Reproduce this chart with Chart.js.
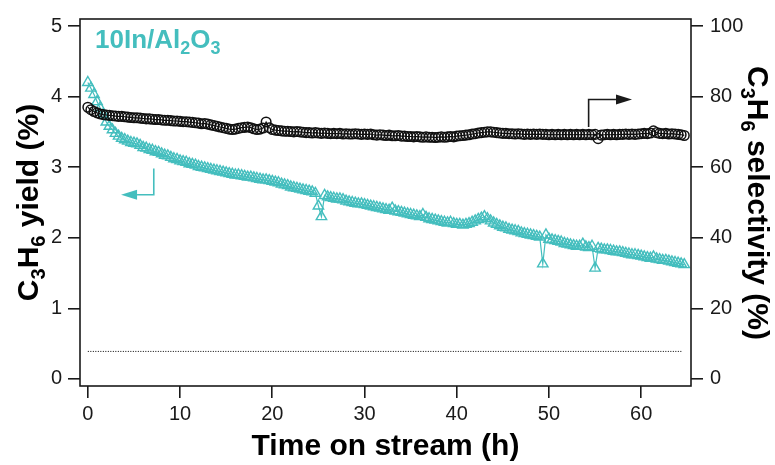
<!DOCTYPE html>
<html><head><meta charset="utf-8">
<script src="https://cdn.jsdelivr.net/npm/chart.js@4/dist/chart.umd.min.js"></script>
<style>html,body{margin:0;padding:0;background:#fff}#wrap{width:775px;height:465px}</style>
</head><body><div id="wrap"><canvas id="c" width="775" height="465"></canvas></div>
<script>
// Time on stream (h)
const timeHours = [
 0,0.33,0.67,1,1.33,1.67,2,2.33,2.67,3,3.33,3.67,4,4.33,4.67,5,5.33,5.67,6,6.33,6.67,7,7.33,7.67,8,8.33,8.67,9,9.33,9.67,
 10,10.33,10.67,11,11.33,11.67,12,12.33,12.67,13,13.33,13.67,14,14.33,14.67,15,15.33,15.67,16,16.33,16.67,17,17.33,17.67,18,18.33,18.67,19,19.33,19.67,
 20,20.33,20.67,21,21.33,21.67,22,22.33,22.67,23,23.33,23.67,24,24.33,24.67,25,25.33,25.67,26,26.33,26.67,27,27.33,27.67,28,28.33,28.67,29,29.33,29.67,
 30,30.33,30.67,31,31.33,31.67,32,32.33,32.67,33,33.33,33.67,34,34.33,34.67,35,35.33,35.67,36,36.33,36.67,37,37.33,37.67,38,38.33,38.67,39,39.33,39.67,
 40,40.33,40.67,41,41.33,41.67,42,42.33,42.67,43,43.33,43.67,44,44.33,44.67,45,45.33,45.67,46,46.33,46.67,47,47.33,47.67,48,48.33,48.67,49,49.33,49.67,
 50,50.33,50.67,51,51.33,51.67,52,52.33,52.67,53,53.33,53.67,54,54.33,54.67,55,55.33,55.67,56,56.33,56.67,57,57.33,57.67,58,58.33,58.67,59,59.33,59.67,
 60,60.33,60.67,61,61.33,61.67,62,62.33,62.67,63,63.33,63.67,64,64.33,64.67
];
// C3H6 yield (%)
const yieldPct = [
 4.20,4.12,4.03, 3.93,3.84,3.75, 3.64,3.58,3.53, 3.48,3.44,3.41, 3.39,3.37,3.35, 3.34,3.33,3.31, 3.28,3.27,3.25, 3.24,3.22,3.21, 3.19,3.17,3.16, 3.14,3.12,3.11,
 3.09,3.08,3.07, 3.05,3.04,3.03, 3.01,3.00,2.99, 2.98,2.97,2.96, 2.95,2.94,2.93, 2.92,2.91,2.90, 2.89,2.89,2.88, 2.87,2.86,2.86, 2.85,2.84,2.83, 2.82,2.82,2.81,
 2.80,2.79,2.78, 2.76,2.75,2.74, 2.72,2.71,2.70, 2.69,2.68,2.67, 2.66,2.65,2.63, 2.45,2.30,2.60, 2.58,2.57,2.56, 2.55,2.55,2.54, 2.52,2.51,2.50, 2.49,2.48,2.48,
 2.47,2.46,2.45, 2.44,2.43,2.42, 2.41,2.40,2.39, 2.42,2.38,2.37, 2.36,2.35,2.34, 2.33,2.32,2.31, 2.30,2.33,2.29, 2.27,2.26,2.25, 2.24,2.23,2.22, 2.21,2.22,2.20,
 2.19,2.19,2.18, 2.19,2.20,2.22, 2.24,2.26,2.28, 2.30,2.27,2.24, 2.21,2.19,2.17, 2.15,2.14,2.12, 2.11,2.10,2.09, 2.07,2.06,2.05, 2.04,2.03,2.02, 2.01,1.63,2.04,
 1.98,1.97,1.96, 1.95,1.94,1.92, 1.91,1.90,1.89, 1.88,1.88,1.91, 1.87,1.86,1.88, 1.57,1.85,1.84, 1.83,1.83,1.82, 1.81,1.80,1.80, 1.79,1.78,1.77, 1.76,1.76,1.75,
 1.74,1.73,1.72, 1.71,1.73,1.70, 1.69,1.68,1.68, 1.67,1.66,1.65, 1.64,1.63,1.62
];
// C3H6 selectivity (%)
const selectivityPct = [
 77.0,76.3,75.8, 75.4,75.1,74.9, 74.8,74.7,74.6, 74.5,74.4,74.4, 74.3,74.2,74.1, 74.0,74.0,73.9, 73.8,73.7,73.7, 73.6,73.5,73.5, 73.4,73.3,73.3, 73.2,73.1,73.1,
 73.0,72.9,72.9, 72.8,72.7,72.6, 72.5,72.3,72.4, 72.2,72.0,71.8, 71.6,71.4,71.2, 71.0,70.8,70.7, 70.8,71.0,71.2, 71.3,71.4,71.2, 70.9,70.7,70.8, 71.1,72.8,71.2,
 70.7,70.5,70.4, 70.3,70.2,70.2, 70.1,70.0,70.1, 70.0,69.9,69.8, 69.8,69.7,69.8, 69.7,69.6,69.7, 69.6,69.5,69.6, 69.5,69.6,69.4, 69.5,69.4,69.4, 69.5,69.4,69.3,
 69.4,69.3,69.4, 69.2,69.1,69.2, 69.1,69.0,69.1, 68.9,68.9,69.0, 68.8,68.8,68.7, 68.7,68.6,68.7, 68.6,68.5,68.6, 68.5,68.5,68.4, 68.5,68.6,68.5, 68.6,68.7,68.6,
 68.8,68.9,69.0, 69.1,69.2,69.4, 69.5,69.7,69.8, 69.9,70.0,70.0, 69.9,69.8,69.7, 69.6,69.6,69.5, 69.5,69.4,69.5, 69.4,69.3,69.4, 69.3,69.4,69.3, 69.4,69.3,69.3,
 69.2,69.3,69.2, 69.3,69.2,69.3, 69.2,69.3,69.2, 69.3,69.2,69.3, 69.2,69.3,69.2, 69.3,68.1,69.1, 69.2,69.3,69.2, 69.3,69.2,69.3, 69.3,69.4,69.3, 69.4,69.3,69.4,
 69.5,69.6,69.5, 69.7,70.3,69.8, 69.6,69.5,69.6, 69.4,69.5,69.4, 69.3,69.2,69.0
];
// dotted reference line (yield axis)
const refLineTimes = [0, 64.5];
const refLineYield = [0.39, 0.39];
// ticks
const xTicks = [0,10,20,30,40,50,60];
const yTicks = [0,1,2,3,4,5];
const y1Ticks = [0,20,40,60,80,100];
const sampleLabel = [['10In/Al',0],['2',1],['O',0],['3',1]];
const yTitle = [['C',0],['3',1],['H',0],['6',1],[' yield (%)',0]];
const y1Title = [['C',0],['3',1],['H',0],['6',1],[' selectivity (%)',0]];
const xTitle = 'Time on stream (h)';

const TEAL = '#44BEBE';
const INK = '#1a1a1a';
const FONT = '"Liberation Sans", Arial, Helvetica, sans-serif';

function pts(xs, ys){ return xs.map((x,i)=>({x:x, y:ys[i]})); }

function drawRich(ctx, segs, size, x, y, align){
  const main = `bold ${size}px ${FONT}`;
  const sub = `bold ${Math.round(size*0.68)}px ${FONT}`;
  let w = 0;
  for (const [t,s] of segs){ ctx.font = s?sub:main; w += ctx.measureText(t).width; }
  let cx = align==='center' ? x - w/2 : x;
  ctx.textAlign = 'left'; ctx.textBaseline = 'alphabetic';
  for (const [t,s] of segs){ ctx.font = s?sub:main; ctx.fillText(t, cx, y + (s? size*0.22 : 0)); cx += ctx.measureText(t).width; }
}

function drawArrow(ctx, xs, ys, a, color){
  const x = xs.getPixelForValue(a.x), y0 = ys.getPixelForValue(a.yFrom), y1 = ys.getPixelForValue(a.yTo);
  const tip = xs.getPixelForValue(a.xTip);
  const dir = tip > x ? 1 : -1, head = 16, hw = 5;
  ctx.save();
  ctx.strokeStyle = color; ctx.fillStyle = color; ctx.lineWidth = 1.6;
  ctx.beginPath(); ctx.moveTo(x, y0); ctx.lineTo(x, y1); ctx.lineTo(tip - dir*head, y1); ctx.stroke();
  ctx.beginPath(); ctx.moveTo(tip, y1); ctx.lineTo(tip - dir*head, y1 - hw); ctx.lineTo(tip - dir*head, y1 + hw); ctx.closePath(); ctx.fill();
  ctx.restore();
}

const decor = {
  id: 'decor',
  afterDraw(chart){
    const ctx = chart.ctx, ca = chart.chartArea, s = chart.scales;
    ctx.save();
    ctx.strokeStyle = INK; ctx.lineWidth = 1.6;
    ctx.strokeRect(ca.left, ca.top, ca.right - ca.left, ca.bottom - ca.top);
    // arrows (data units)
    drawArrow(ctx, s.x, s.y, {x: 7.15, yFrom: 2.98, yTo: 2.61, xTip: 3.6}, TEAL);
    drawArrow(ctx, s.x, s.y1, {x: 54.3, yFrom: 71.4, yTo: 79.2, xTip: 59.0}, INK);
    // sample label
    ctx.fillStyle = TEAL;
    drawRich(ctx, sampleLabel, 26, 95, 48, 'left');
    // axis titles
    ctx.fillStyle = '#000';
    ctx.save(); ctx.translate(38, (ca.top+ca.bottom)/2); ctx.rotate(-Math.PI/2);
    drawRich(ctx, yTitle, 30, 0, 0, 'center'); ctx.restore();
    ctx.save(); ctx.translate(748, 203); ctx.rotate(Math.PI/2);
    drawRich(ctx, y1Title, 30, 0, 0, 'center'); ctx.restore();
    drawRich(ctx, [[xTitle,0]], 30, (ca.left+ca.right)/2, 455, 'center');
    ctx.restore();
  }
};

const tickFont = {family: FONT, size: 20};
const gridOpts = {drawOnChartArea:false, drawTicks:true, tickLength:12, color:INK, lineWidth:1.6};

new Chart(document.getElementById('c'), {
  type: 'line',
  data: {
    datasets: [
      {label:'selectivity', data: pts(timeHours, selectivityPct), yAxisID:'y1', borderColor:'#111', backgroundColor:'rgba(0,0,0,0)', borderWidth:1.2, pointStyle:'circle', pointRadius:4.8, pointBorderWidth:1.5, pointBorderColor:'#111', pointBackgroundColor:'rgba(0,0,0,0)', tension:0},
      {label:'yield', data: pts(timeHours, yieldPct), yAxisID:'y', borderColor:TEAL, backgroundColor:'rgba(0,0,0,0)', borderWidth:1.2, pointStyle:'triangle', pointRadius:6, pointBorderWidth:1.4, pointBorderColor:TEAL, pointBackgroundColor:'rgba(0,0,0,0)', tension:0},
      {label:'ref', data: pts(refLineTimes, refLineYield), yAxisID:'y', borderColor:'#000', borderWidth:1, borderDash:[1,1.5], pointRadius:0}
    ]
  },
  options: {
    responsive:false, animation:false, devicePixelRatio:1,
    layout:{padding:{top:13,left:0,right:0,bottom:0}},
    plugins:{legend:{display:false}, tooltip:{enabled:false}},
    scales:{
      x:{type:'linear', min:-0.85, max:65.4,
         afterBuildTicks: sc => { sc.ticks = xTicks.map(v=>({value:v})); },
         afterFit: sc => { sc.height = 79; },
         ticks:{font:tickFont, color:INK, padding:4, maxRotation:0, autoSkip:false},
         grid:gridOpts, border:{display:false}},
      y:{type:'linear', position:'left', min:-0.1, max:5.1,
         afterBuildTicks: sc => { sc.ticks = yTicks.map(v=>({value:v})); },
         afterFit: sc => { sc.width = 80; },
         ticks:{font:tickFont, color:INK, padding:6},
         grid:gridOpts, border:{display:false}},
      y1:{type:'linear', position:'right', min:-2, max:102,
         afterBuildTicks: sc => { sc.ticks = y1Ticks.map(v=>({value:v})); },
         afterFit: sc => { sc.width = 84; },
         ticks:{font:tickFont, color:INK, padding:7},
         grid:gridOpts, border:{display:false}}
    }
  },
  plugins:[decor]
});
</script></body></html>
